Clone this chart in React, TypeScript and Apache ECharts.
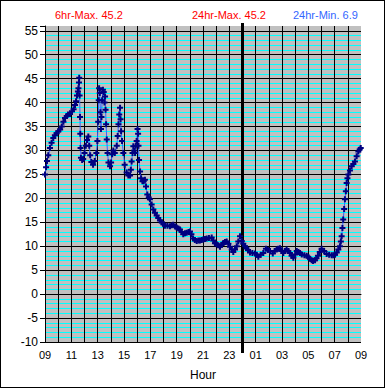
import React, { useEffect, useRef } from 'react';
import * as echarts from 'echarts';

// Hours since 09:00 and temperature readings
const HOURS = [
  0.00, 0.08, 0.15, 0.25, 0.38, 0.50, 0.63, 0.75, 0.88, 1.01, 1.15, 1.27, 1.40, 1.52, 1.65, 1.75, 1.90, 2.05, 2.17, 2.28,
  2.36, 2.43, 2.50, 2.54, 2.58, 2.60, 2.63, 2.66, 2.68, 2.70, 2.73, 2.82, 2.90, 3.00, 3.10, 3.19, 3.29, 3.36, 3.43, 3.52,
  3.65, 3.78, 3.90, 3.98, 4.04, 4.08, 4.11, 4.16, 4.21, 4.25, 4.29, 4.34, 4.40, 4.46, 4.52, 4.56, 4.60, 4.64, 4.69, 4.75,
  4.82, 4.94, 5.02, 5.10, 5.19, 5.30, 5.45, 5.52, 5.58, 5.64, 5.70, 5.74, 5.78, 5.85, 5.95, 6.05, 6.20, 6.33, 6.46, 6.52,
  6.58, 6.65, 6.71, 6.78, 6.84, 6.90, 6.96, 7.03, 7.07, 7.10, 7.14, 7.22, 7.30, 7.40, 7.50, 7.59, 7.67, 7.77, 7.88, 7.97,
  8.10, 8.23, 8.35, 8.48, 8.60, 8.73, 8.86, 9.00, 9.11, 9.30, 9.49, 9.62, 9.74, 9.88, 10.00, 10.13, 10.25, 10.38, 10.50, 10.63,
  10.76, 10.90, 11.01, 11.12, 11.24, 11.38, 11.52, 11.65, 11.77, 11.90, 12.02, 12.15, 12.28, 12.45, 12.66, 12.78, 12.91, 13.04, 13.16, 13.29,
  13.42, 13.54, 13.67, 13.80, 13.93, 14.05, 14.18, 14.30, 14.43, 14.56, 14.68, 14.81, 14.94, 15.06, 15.19, 15.30, 15.42, 15.57, 15.75, 15.95,
  16.08, 16.20, 16.38, 16.58, 16.78, 16.93, 17.09, 17.30, 17.45, 17.60, 17.72, 17.85, 17.98, 18.10, 18.23, 18.35, 18.48, 18.60, 18.73, 18.86,
  19.00, 19.12, 19.25, 19.37, 19.50, 19.70, 19.88, 20.00, 20.13, 20.25, 20.36, 20.51, 20.62, 20.73, 20.87, 21.01, 21.20, 21.39, 21.58, 21.77,
  21.90, 22.03, 22.16, 22.28, 22.40, 22.47, 22.53, 22.59, 22.65, 22.72, 22.78, 22.85, 22.91, 22.97, 23.04, 23.16, 23.29, 23.42, 23.54, 23.67,
  23.80, 23.90, 23.98,
];
const TEMPS = [
  25.0, 26.5, 27.8, 29.0, 30.5, 31.6, 32.6, 33.2, 33.6, 34.0, 34.4, 35.0, 36.0, 36.8, 37.2, 37.5, 37.6, 38.2, 38.6, 39.5,
  40.3, 41.5, 42.3, 43.0, 44.2, 45.2, 41.5, 37.0, 33.5, 30.5, 28.5, 28.0, 28.2, 29.5, 31.0, 32.2, 32.9, 31.0, 29.0, 27.6,
  27.0, 27.8, 29.5, 32.0, 36.0, 40.5, 43.0, 42.0, 38.0, 34.5, 37.0, 40.5, 42.7, 42.2, 40.0, 41.3, 38.5, 35.5, 32.3, 29.5,
  27.5, 26.7, 27.5, 29.2, 30.0, 29.5, 31.0, 33.0, 35.5, 37.5, 38.9, 36.5, 34.0, 32.0, 29.5, 27.0, 25.4, 24.8, 24.8, 26.0,
  27.7, 29.5, 30.9, 30.0, 29.5, 31.0, 32.0, 34.5, 33.5, 31.0, 28.0, 25.6, 24.2, 23.6, 23.6, 23.9, 22.5, 20.8, 20.2, 19.8,
  18.7, 17.7, 17.0, 16.4, 15.9, 15.4, 15.0, 14.6, 14.3, 14.3, 14.2, 14.4, 14.5, 14.1, 13.9, 13.7, 13.5, 13.0, 12.5, 12.7,
  12.8, 13.0, 13.1, 12.5, 11.6, 11.3, 11.1, 11.2, 11.2, 11.3, 11.4, 11.5, 11.6, 11.7, 11.8, 11.2, 10.6, 10.4, 10.2, 9.9,
  10.3, 10.7, 10.9, 11.0, 10.5, 9.9, 9.3, 8.8, 9.3, 10.0, 11.0, 12.1, 11.1, 10.5, 10.0, 9.6, 9.2, 8.7, 8.6, 8.5,
  8.2, 7.8, 8.2, 8.6, 9.5, 9.2, 9.0, 8.5, 9.0, 9.3, 9.5, 9.6, 9.0, 8.6, 9.0, 9.3, 9.0, 8.6, 8.0, 7.6,
  8.3, 9.0, 8.8, 8.6, 8.3, 8.1, 8.0, 7.7, 7.4, 7.1, 6.9, 7.1, 7.5, 8.0, 8.8, 9.5, 9.0, 8.4, 8.2, 8.1,
  8.1, 8.2, 8.7, 9.3, 10.0, 11.0, 12.1, 13.8, 15.6, 17.8, 19.8, 21.5, 23.2, 24.2, 25.0, 25.8, 26.7, 27.2, 27.7, 28.8,
  29.8, 30.2, 30.5,
];

const X_TICK_LABELS = ['09', '11', '13', '15', '17', '19', '21', '23', '01', '03', '05', '07', '09'];
const X_MIN = 0;
const X_MAX = 24;
const Y_MIN = -10;
const Y_MAX = 56;
const Y_LABEL_MAX = 55;
const MIDNIGHT = 15;
const TITLES = ['6hr-Max. 45.2', '24hr-Max. 45.2', '24hr-Min. 6.9'];

const FONT = 'Liberation Sans, Arial, sans-serif';
const PLUS = 'path://M2,0H4V2H6V4H4V6H2V4H0V2H2Z';

export default function App() {
  const ref = useRef<HTMLDivElement>(null);

  useEffect(() => {
    if (!ref.current) return;
    const chart = echarts.init(ref.current, null, { renderer: 'svg' });
    const data = HOURS.map((h, i) => [h, TEMPS[i]]);
    const titleStyle = (color: string) => ({
      color,
      fontSize: 11,
      fontWeight: 'normal' as const,
      fontFamily: FONT,
    });
    chart.setOption({
      animation: false,
      backgroundColor: '#ffffff',
      title: [
        { text: TITLES[0], left: 55, top: 9, padding: 0, textStyle: titleStyle('#ff0000') },
        { text: TITLES[1], left: 192, top: 9, padding: 0, textStyle: titleStyle('#ff0000') },
        { text: TITLES[2], left: 293, top: 9, padding: 0, textStyle: titleStyle('#3366ff') },
      ],
      grid: {
        left: 45,
        right: 24,
        top: 26,
        bottom: 46,
        show: true,
        backgroundColor: '#c0c0c0',
        borderWidth: 0,
      },
      xAxis: {
        type: 'value',
        min: X_MIN,
        max: X_MAX,
        interval: 1,
        z: 1,
        axisLine: { show: true, lineStyle: { color: '#000000', width: 1 } },
        axisTick: { show: false },
        axisLabel: {
          color: '#000000',
          fontSize: 11,
          fontFamily: FONT,
          margin: 7,
          formatter: (v: number) => (v % 2 === 0 ? X_TICK_LABELS[v / 2] : ''),
        },
        splitLine: { show: true, showMaxLine: false, lineStyle: { color: '#000000', width: 1 } },
        name: 'Hour',
        nameLocation: 'middle',
        nameGap: 27,
        nameTextStyle: { color: '#000000', fontSize: 12, fontFamily: FONT },
      },
      yAxis: [
        {
          type: 'value',
          min: Y_MIN,
          max: Y_MAX,
          interval: 5,
          axisLine: { show: true, lineStyle: { color: '#000000', width: 1 } },
          axisTick: { show: true, length: 5, lineStyle: { color: '#000000' } },
          axisLabel: {
            color: '#000000',
            fontSize: 12,
            fontFamily: FONT,
            margin: 7,
            formatter: (v: number) => (v > Y_LABEL_MAX ? '' : String(v)),
          },
          splitLine: { show: true, showMaxLine: false, lineStyle: { color: '#000000', width: 1 } },
        },
        {
          type: 'value',
          min: Y_MIN,
          max: Y_MAX,
          interval: 1,
          axisLine: { show: false },
          axisTick: { show: false },
          axisLabel: { show: false },
          splitLine: {
            show: true,
            showMaxLine: false,
            lineStyle: {
              color: ['rgba(0,0,0,0)', '#00ffff', '#00ffff', '#00ffff', '#00ffff'],
              width: 1,
            },
          },
        },
      ],
      series: [
        {
          type: 'custom',
          silent: true,
          clip: false,
          data: [[MIDNIGHT, Y_MIN]],
          renderItem: (params: any, api: any) => {
            const top = api.coord([api.value(0), Y_MAX]);
            const bot = api.coord([api.value(0), Y_MIN]);
            return {
              type: 'line',
              shape: { x1: top[0], y1: top[1] - 3, x2: bot[0], y2: bot[1] + 11 },
              style: { stroke: '#000000', lineWidth: 3 },
            };
          },
        },
        {
          type: 'line',
          data,
          symbol: PLUS,
          symbolSize: 6,
          showSymbol: true,
          showAllSymbol: true,
          itemStyle: { color: '#000080' },
          lineStyle: { color: '#3366ff', width: 1 },
          silent: true,
          clip: true,
        },
      ],
    });
    return () => chart.dispose();
  }, []);

  return (
    <div style={{ position: 'absolute', left: 0, top: 0, width: 385, height: 388 }}>
      <div ref={ref} style={{ position: 'absolute', left: 0, top: 0, width: 385, height: 388 }} />
      <div
        style={{
          position: 'absolute',
          left: 0,
          top: 0,
          width: 385,
          height: 388,
          boxSizing: 'border-box',
          border: '1px solid #000',
          pointerEvents: 'none',
        }}
      />
    </div>
  );
}
